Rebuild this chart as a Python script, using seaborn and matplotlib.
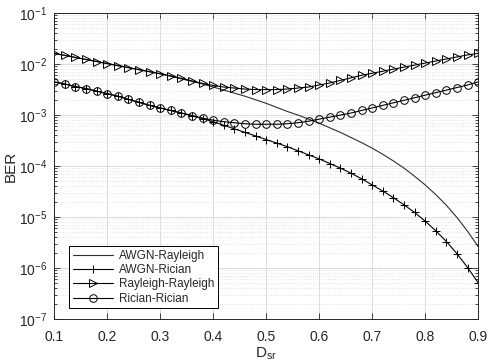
import numpy as np
import pandas as pd
import matplotlib
matplotlib.use("Agg")
import matplotlib.pyplot as plt
import seaborn as sns
from matplotlib.ticker import LogLocator, NullFormatter

# 距离 D_sr (0.1 ~ 0.9, 步长 0.02)
d_sr = [round(0.1 + 0.02 * i, 2) for i in range(41)]

# log10(BER)
awgn_rayleigh_log = [-1.79, -1.83, -1.87, -1.91, -1.95, -1.99, -2.03, -2.07, -2.11, -2.15,
                     -2.19, -2.24, -2.29, -2.34, -2.39, -2.45, -2.51, -2.57, -2.63, -2.70,
                     -2.77, -2.85, -2.93, -3.00, -3.08, -3.16, -3.25, -3.34, -3.44, -3.54,
                     -3.65, -3.77, -3.90, -4.04, -4.20, -4.37, -4.56, -4.77, -5.01, -5.28,
                     -5.58]
awgn_rician_log = [-2.35, -2.39, -2.44, -2.48, -2.53, -2.58, -2.63, -2.69, -2.75, -2.81,
                   -2.86, -2.91, -2.96, -3.01, -3.07, -3.13, -3.20, -3.27, -3.34, -3.41,
                   -3.48, -3.55, -3.62, -3.70, -3.78, -3.86, -3.95, -4.04, -4.14, -4.25,
                   -4.37, -4.49, -4.62, -4.76, -4.91, -5.08, -5.27, -5.48, -5.72, -5.99,
                   -6.29]
rayleigh_rayleigh_log = [-1.79, -1.83, -1.87, -1.91, -1.95, -1.99, -2.03, -2.07, -2.11, -2.15,
                         -2.19, -2.23, -2.28, -2.33, -2.38, -2.42, -2.45, -2.47, -2.49, -2.50,
                         -2.50, -2.50, -2.49, -2.47, -2.45, -2.41, -2.37, -2.32, -2.27, -2.22,
                         -2.18, -2.14, -2.10, -2.06, -2.02, -1.98, -1.94, -1.90, -1.86, -1.82,
                         -1.79]
rician_rician_log = [-2.35, -2.39, -2.44, -2.48, -2.53, -2.58, -2.63, -2.69, -2.75, -2.81,
                     -2.86, -2.91, -2.96, -3.01, -3.06, -3.10, -3.13, -3.15, -3.17, -3.18,
                     -3.18, -3.18, -3.17, -3.15, -3.12, -3.08, -3.04, -3.00, -2.96, -2.91,
                     -2.86, -2.81, -2.76, -2.71, -2.66, -2.61, -2.56, -2.51, -2.46, -2.41,
                     -2.35]

series_names = ['AWGN-Rayleigh', 'AWGN-Rician', 'Rayleigh-Rayleigh', 'Rician-Rician']
series_logs = [awgn_rayleigh_log, awgn_rician_log, rayleigh_rayleigh_log, rician_rician_log]
series_markers = [None, '+', '>', 'o']

sns.set_style('ticks')
plt.rcParams['font.family'] = ['Liberation Sans', 'DejaVu Sans']
plt.rcParams['mathtext.fontset'] = 'custom'
plt.rcParams['mathtext.rm'] = 'Liberation Sans'
plt.rcParams['mathtext.it'] = 'Liberation Sans:italic'

fig = plt.figure(figsize=(4.88, 3.63), dpi=100)
ax = fig.add_axes([0.111, 0.121, 0.869, 0.843])

for name, logs, mk in zip(series_names, series_logs, series_markers):
    ber = 10.0 ** np.array(logs)
    kw = dict(color='black', linewidth=0.8, label=name)
    if mk is not None:
        kw.update(marker=mk, markersize=5.5, markerfacecolor='none',
                  markeredgecolor='black', markeredgewidth=0.7)
    else:
        kw['color'] = '#303030'
    sns.lineplot(x=d_sr, y=ber, ax=ax, **kw)

ax.set_yscale('log')
ax.set_xlim(0.1, 0.9)
ax.set_ylim(1e-7, 1e-1)
ax.set_xticks([0.1, 0.2, 0.3, 0.4, 0.5, 0.6, 0.7, 0.8, 0.9])
ax.set_xticklabels(['0.1', '0.2', '0.3', '0.4', '0.5', '0.6', '0.7', '0.8', '0.9'])
ax.yaxis.set_major_locator(LogLocator(base=10, numticks=10))
ax.yaxis.set_minor_locator(LogLocator(base=10, subs=np.arange(2, 10), numticks=20))
ax.yaxis.set_minor_formatter(NullFormatter())

ax.grid(True, which='major', color='#dcdcdc', linewidth=0.7)
ax.grid(True, which='minor', axis='y', color='#dcdcdc', linestyle=':', linewidth=0.6)
ax.set_axisbelow(True)
ax.tick_params(which='both', direction='in', top=True, right=True, labelsize=10,
               colors='#262626', width=0.6)
ax.tick_params(which='major', length=4)
ax.tick_params(which='minor', length=2)
ax.tick_params(axis='x', which='major', pad=8)
ax.tick_params(axis='y', which='major', pad=5)
for sp in ax.spines.values():
    sp.set_visible(True)
    sp.set_color('#262626')
    sp.set_linewidth(0.7)

ax.set_xlabel(r'D$_{\mathrm{sr}}$', fontsize=11, color='#262626', labelpad=1)
ax.set_ylabel('BER', fontsize=11, color='#262626', labelpad=1)

leg = ax.legend(loc='lower left', bbox_to_anchor=(0.035, 0.035), fontsize=8.5,
                frameon=True, fancybox=False, edgecolor='black', framealpha=1,
                handlelength=3.4, borderpad=0.3, labelspacing=0.2, handletextpad=0.5,
                borderaxespad=0)
leg.get_frame().set_linewidth(0.7)

fig.savefig('out.png', dpi=100)
